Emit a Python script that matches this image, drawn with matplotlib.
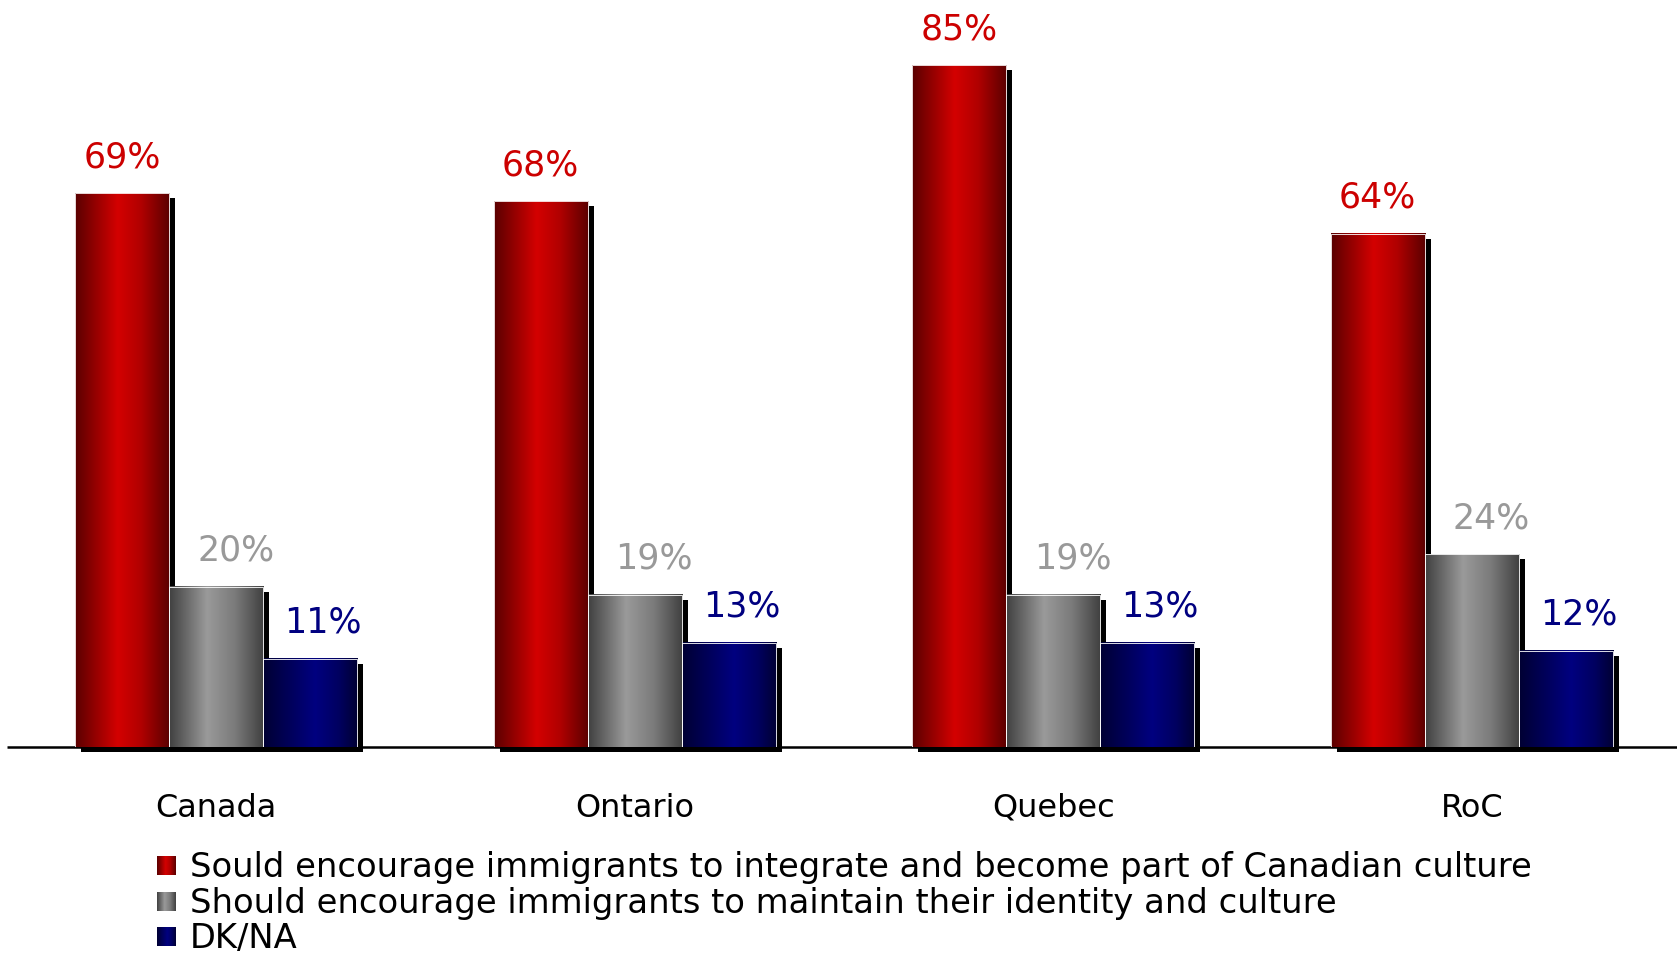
import numpy as np
import matplotlib
matplotlib.use("Agg")
import matplotlib.pyplot as plt
from matplotlib.colors import LinearSegmentedColormap
from matplotlib.patches import Rectangle
import matplotlib.transforms as mtransforms

plt.rcParams['font.family'] = ['DejaVu Sans']

categories = ["Canada", "Ontario", "Quebec", "RoC"]
series_names = [
    "Sould encourage immigrants to integrate and become part of Canadian culture",
    "Should encourage immigrants to maintain their identity and culture",
    "DK/NA",
]
integrate = [69, 68, 85, 64]
maintain = [20, 19, 19, 24]
dkna = [11, 13, 13, 12]
series_values = [integrate, maintain, dkna]

label_colors = ["#cc0000", "#999999", "#000080"]
grad_specs = [
    [(0.0, "#5a0000"), (0.45, "#d40000"), (0.7, "#b00000"), (1.0, "#5a0000")],
    [(0.0, "#404040"), (0.4, "#9a9a9a"), (0.7, "#7a7a7a"), (1.0, "#404040")],
    [(0.0, "#000033"), (0.55, "#000080"), (0.8, "#000060"), (1.0, "#000033")],
]
cmaps = [LinearSegmentedColormap.from_list(f"g{i}", s) for i, s in enumerate(grad_specs)]
label_dx = [0, 14, 9]  # points

W, H = 1677, 954
fig = plt.figure(figsize=(W / 100, H / 100), dpi=100)
ax = fig.add_axes([7 / W, 1 - 748 / H, 1674 / W, 722 / H])
ax.set_xlim(-0.5, 3.5)
ax.set_ylim(0, 90)
ax.axis("off")

x = np.arange(len(categories))
bw = 0.225
offsets = [-bw, 0, bw]
grad = np.linspace(0, 1, 256).reshape(1, -1)
shadow_tr = mtransforms.offset_copy(ax.transData, fig=fig, x=6, y=-5, units="dots")

ax.plot([-0.5, 3.5], [0, 0], color="black", lw=1.8, zorder=0.5, solid_capstyle="butt", clip_on=False)

for si, vals in enumerate(series_values):
    for xi, v in zip(x, vals):
        x0 = xi + offsets[si] - bw / 2
        ax.add_patch(Rectangle((x0, 0), bw, v, facecolor="black", edgecolor="none",
                               transform=shadow_tr, zorder=1, clip_on=False))
for si, vals in enumerate(series_values):
    bars = ax.bar(x + offsets[si], vals, bw, color="none", edgecolor="white", lw=0.6, zorder=3)
    for b in bars:
        x0, y0 = b.get_x(), b.get_y()
        ax.imshow(grad, cmap=cmaps[si], extent=[x0, x0 + b.get_width(), y0, y0 + b.get_height()],
                  aspect="auto", zorder=2, interpolation="bilinear")
        ax.annotate(f"{b.get_height():.0f}%", (x0 + b.get_width() / 2, b.get_height()),
                    xytext=(label_dx[si], 19.5), textcoords="offset points",
                    ha="center", va="baseline", fontsize=25, color=label_colors[si],
                    annotation_clip=False)

ax.set_xlim(-0.5, 3.5)
ax.set_ylim(0, 90)

for xi, c in zip(x, categories):
    ax.annotate(c, (xi, 0), xytext=(0, -49.5), textcoords="offset points",
                ha="center", va="baseline", fontsize=23, color="black", annotation_clip=False)

# legend
baselines = [877, 913, 948]
for si, name in enumerate(series_names):
    yb = baselines[si]
    fig.text(190 / W, 1 - yb / H, name, fontsize=24.3, color="black", ha="left", va="baseline")
    sq = fig.add_axes([157 / W, 1 - (yb - 1) / H, 19 / W, 19 / H])
    sq.imshow(grad, cmap=cmaps[si], aspect="auto", extent=[0, 1, 0, 1], interpolation="bilinear")
    sq.axis("off")

fig.savefig("out.png", dpi=100)
